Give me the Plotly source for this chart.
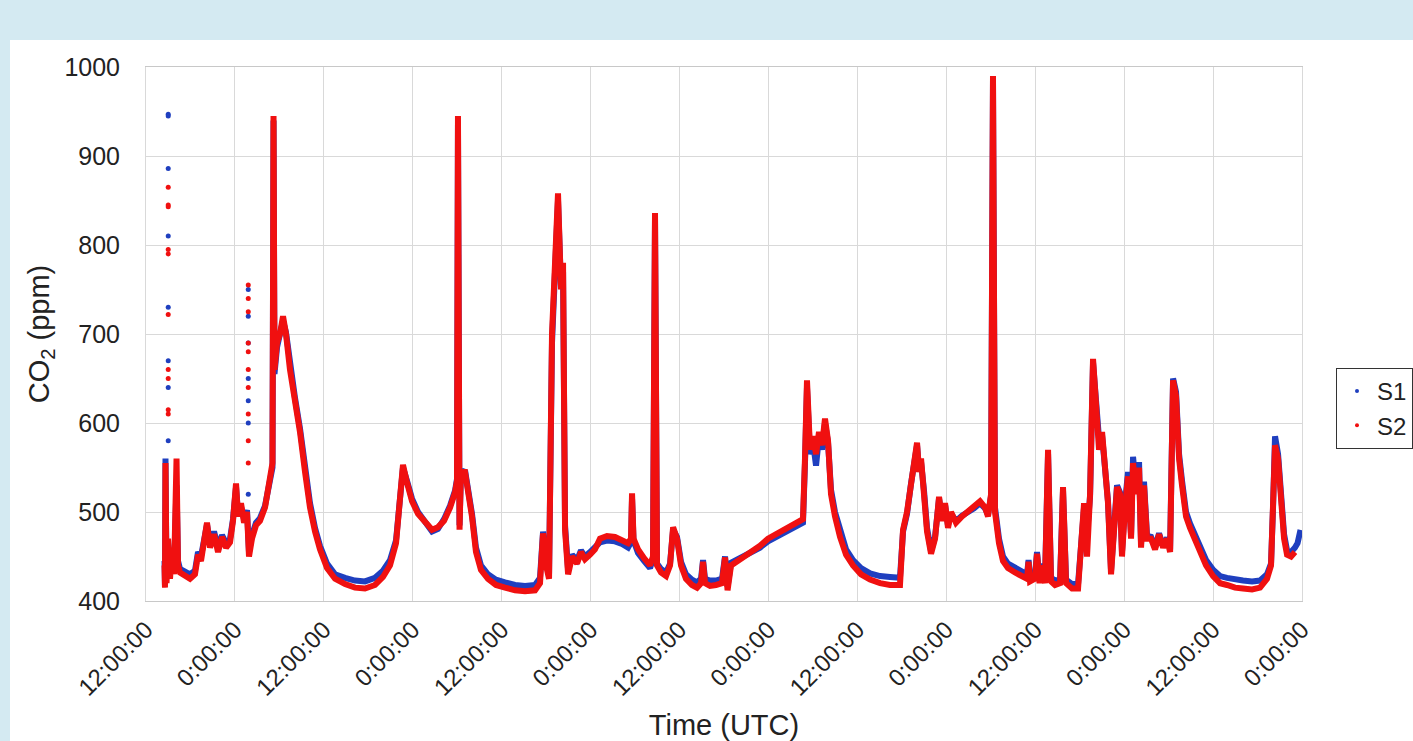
import plotly.graph_objects as go

# Time in hours since the first 12:00:00 tick
hours = [2.5, 2.56, 2.63, 2.77, 2.97, 3.24, 3.51, 3.78, 4.12, 4.32, 4.59, 5.26, 5.94, 6.61, 7.02, 7.42,
         7.83, 8.23, 8.64, 9.18, 9.72, 10.26, 10.8, 11.34, 11.74, 12.15, 12.42, 12.82, 13.23, 13.63, 13.9,
         14.3, 14.84, 15.38, 16.06, 16.73, 17.07, 17.21, 17.34, 17.68, 18.08, 18.49, 18.89, 19.43, 20.11,
         20.78, 21.46, 22.13, 22.81, 23.48, 24.43, 25.51, 26.86, 28.2, 29.55, 30.9, 31.98, 32.93, 33.74,
         34.28, 34.68, 35.22, 35.9, 36.71, 37.65, 38.6, 39.4, 40.22, 41.03, 41.7, 41.97, 42.1, 42.31, 42.5,
         43.05, 43.59, 43.99, 44.53, 45.2, 46.15, 47.23, 48.45, 49.8, 51.15, 52.5, 53.17, 53.58, 53.98,
         54.39, 54.79, 55.2, 55.6, 56.0, 56.28, 56.55, 56.96, 57.5, 58.17, 58.7, 59.24, 59.92, 60.59, 61.27,
         62.21, 63.29, 64.24, 65.05, 65.45, 65.59, 65.79, 66.4, 67.21, 68.02, 68.42, 68.69, 68.96, 69.5,
         70.18, 70.72, 71.13, 71.66, 72.2, 72.87, 73.68, 74.36, 74.9, 75.17, 75.44, 76.11, 76.92, 77.73,
         78.14, 78.48, 78.95, 79.89, 80.84, 81.78, 82.86, 83.94, 85.02, 86.23, 87.58, 88.66, 88.93, 89.2,
         89.61, 90.01, 90.42, 90.82, 91.23, 91.63, 92.04, 92.44, 92.98, 93.66, 94.47, 95.41, 96.49, 97.71,
         99.06, 100.4, 101.75, 102.16, 102.7, 103.24, 103.64, 104.05, 104.32, 104.59, 104.99, 105.4,
         105.94, 106.48, 107.02, 107.42, 107.83, 108.23, 108.64, 109.31, 110.12, 110.93, 111.74, 112.55,
         113.23, 113.63, 114.04, 114.3, 114.57, 115.11, 115.65, 116.32, 117.27, 118.22, 118.89, 119.1,
         119.3, 119.97, 120.24, 120.58, 120.92, 121.32, 121.73, 122.13, 122.67, 123.35, 123.75, 124.16,
         124.97, 125.78, 126.18, 126.59, 126.99, 127.4, 127.8, 128.21, 128.61, 129.02, 129.42, 129.82,
         130.23, 130.63, 131.04, 131.44, 131.71, 132.12, 132.52, 132.93, 133.2, 133.6, 134.01, 134.28,
         134.68, 135.09, 135.63, 136.17, 136.71, 137.25, 137.79, 138.2, 138.6, 139.0, 139.41, 139.81,
         140.35, 140.89, 141.57, 142.24, 143.05, 144.0, 144.94, 145.88, 146.96, 148.04, 149.26, 150.34,
         151.28, 151.82, 152.09, 152.36, 152.77, 153.17, 153.58, 153.98, 154.52, 155.06]

s2 = [440, 415, 555, 420, 470, 425, 460, 430, 560, 440, 432, 428, 425, 430, 452, 445,
      470, 488, 460, 475, 455, 472, 460, 466, 490, 532, 495, 510, 488, 500, 450,
      470, 485, 490, 505, 535, 555, 945, 660, 690, 700, 720, 700, 660, 625,
      590, 545, 505, 478, 458, 437, 425, 419, 415, 414, 418, 427, 440, 465,
      520, 553, 533, 512, 498, 488, 480, 483, 490, 505, 522, 535, 945, 480, 545,
      545, 520, 495, 455, 435, 425, 418, 415, 412, 411, 412, 420, 476, 440,
      425, 700, 800, 858, 750, 780, 480, 430, 450, 442, 455, 447, 452, 458, 470,
      473, 472, 468, 465, 470, 521, 470, 458, 448, 440, 450, 836, 440, 432,
      428, 440, 483, 470, 440, 425, 418, 415, 420, 444, 420, 417, 418, 420,
      449, 412, 440, 445, 450, 455, 462, 470, 475, 482, 488, 492, 560, 648,
      570, 585, 565, 590, 575, 605, 580, 520, 495, 472, 452, 440, 430, 424,
      420, 418, 418, 480, 500, 535, 560, 578, 545, 560, 520, 478,
      453, 470, 517, 490, 510, 482, 500, 488, 495, 500, 505, 512,
      505, 495, 520, 990, 500, 465, 445, 437, 432, 428, 425, 444,
      422, 425, 453, 420, 440, 420, 570, 422, 418, 420, 528, 420,
      414, 414, 470, 510, 450, 520, 672, 610, 570, 590, 545, 510,
      430, 480, 528, 520, 450, 505, 540, 470, 555, 520, 550, 460,
      530, 470, 470, 458, 475, 460, 470, 455, 648, 630, 560, 530,
      495, 482, 470, 455, 440, 428, 420, 418, 415, 414, 413, 415,
      425, 440, 500, 575, 560, 510, 470, 452, 450, 455]

s1 = [445, 418, 560, 425, 465, 430, 455, 435, 530, 445, 436, 432, 430, 434, 455, 450,
      472, 486, 464, 478, 460, 474, 465, 470, 492, 528, 498, 506, 492, 502, 455,
      474, 488, 493, 507, 533, 550, 940, 655, 685, 698, 715, 702, 665, 628,
      594, 550, 510, 482, 462, 442, 430, 426, 423, 422, 426, 434, 446, 468,
      518, 550, 535, 515, 500, 490, 478, 481, 492, 507, 524, 537, 935, 485, 543,
      547, 523, 498, 460, 440, 430, 424, 421, 418, 417, 418, 426, 478, 444,
      430, 690, 795, 850, 755, 770, 485, 435, 452, 446, 457, 450, 455, 460, 466,
      468, 467, 464, 460, 466, 515, 468, 454, 445, 437, 448, 830, 442, 436,
      432, 442, 480, 472, 444, 430, 424, 421, 425, 446, 425, 423, 423, 425,
      450, 416, 443, 447, 451, 455, 460, 467, 472, 478, 484, 488, 555, 640,
      565, 578, 552, 585, 570, 600, 578, 525, 500, 478, 458, 446, 437, 431,
      428, 427, 426, 478, 498, 532, 555, 575, 548, 556, 524, 482,
      456, 472, 515, 493, 508, 485, 498, 490, 496, 500, 504, 510,
      504, 497, 518, 985, 505, 470, 450, 442, 437, 433, 430, 446,
      427, 429, 455, 425, 442, 425, 565, 426, 423, 424, 524, 424,
      419, 419, 472, 505, 475, 518, 668, 612, 582, 586, 548, 512,
      434, 482, 530, 522, 455, 510, 545, 474, 562, 525, 556, 464,
      534, 473, 472, 460, 476, 462, 471, 458, 650, 635, 565, 535,
      500, 487, 475, 460, 446, 435, 428, 426, 424, 423, 422, 423,
      430, 442, 505, 585, 565, 515, 475, 457, 455, 460]

s1_tail_hours = [155.4, 155.8]
s1_tail = [465, 480]

# Sparse readings during the first two rapid excursions
s1_dot_hours = [3.0, 3.0, 3.0, 3.0, 3.0, 3.0, 3.0, 3.0, 13.8, 13.8, 13.8, 13.8, 13.8, 13.8, 13.8]
s1_dots = [947, 945, 886, 810, 730, 670, 640, 580, 750, 720, 690, 650, 625, 600, 520]
s2_dot_hours = [3.0, 3.0, 3.0, 3.0, 3.0, 3.0, 3.0, 3.0, 3.0, 3.0,
                13.8, 13.8, 13.8, 13.8, 13.8, 13.8, 13.8, 13.8, 13.8, 13.8]
s2_dots = [865, 845, 843, 795, 790, 722, 660, 650, 615, 610,
           755, 740, 725, 690, 680, 660, 640, 610, 580, 555]

tick_hours = [0, 12, 24, 36, 48, 60, 72, 84, 96, 108, 120, 132, 144, 156]
tick_labels = ["12:00:00", "0:00:00", "12:00:00", "0:00:00", "12:00:00", "0:00:00", "12:00:00",
               "0:00:00", "12:00:00", "0:00:00", "12:00:00", "0:00:00", "12:00:00", "0:00:00"]

BLUE = "#1f3fbf"
RED = "#f01010"
FONT = "Liberation Sans, Arial, sans-serif"

fig = go.Figure()
fig.add_trace(go.Scatter(x=hours + s1_tail_hours, y=s1 + s1_tail, mode="lines",
                         line=dict(color=BLUE, width=6), showlegend=False, legendgroup="S1", name="S1"))
fig.add_trace(go.Scatter(x=s1_dot_hours, y=s1_dots, mode="markers",
                         marker=dict(color=BLUE, size=5), showlegend=False, legendgroup="S1", name="S1"))
fig.add_trace(go.Scatter(x=hours, y=s2, mode="lines",
                         line=dict(color=RED, width=6), showlegend=False, legendgroup="S2", name="S2"))
fig.add_trace(go.Scatter(x=s2_dot_hours, y=s2_dots, mode="markers",
                         marker=dict(color=RED, size=5), showlegend=False, legendgroup="S2", name="S2"))
fig.add_trace(go.Scatter(x=[None], y=[None], mode="markers", marker=dict(color=BLUE, size=4),
                         name="S1", legendgroup="S1"))
fig.add_trace(go.Scatter(x=[None], y=[None], mode="markers", marker=dict(color=RED, size=4),
                         name="S2", legendgroup="S2"))

L, R, T, B = 146, 111, 67, 140
W, H = 1413, 741
pw, ph = W - L - R, H - T - B

def px(xp):
    return (xp - L) / pw

def py(yp):
    return (H - B - yp) / ph

BG = "#d4eaf2"
fig.update_layout(
    width=W, height=H, autosize=False,
    margin=dict(l=L, r=R, t=T, b=B, pad=0, autoexpand=False),
    paper_bgcolor="white", plot_bgcolor="white",
    font=dict(family=FONT, color="#222", size=24),
    shapes=[
        dict(type="rect", xref="paper", yref="paper", x0=px(0), x1=px(W), y0=py(40), y1=py(0),
             fillcolor=BG, line=dict(width=0), layer="below"),
        dict(type="rect", xref="paper", yref="paper", x0=px(0), x1=px(10), y0=py(H), y1=py(0),
             fillcolor=BG, line=dict(width=0), layer="below"),
    ],
    xaxis=dict(range=[0, 156], tickmode="array", tickvals=tick_hours, ticktext=tick_labels,
               tickangle=-45, showgrid=True, gridcolor="#d9d9d9", gridwidth=1, automargin=False,
               showline=True, linecolor="#c8c8c8", mirror=True, zeroline=False,
               ticks="outside", ticklen=4, tickcolor="rgba(0,0,0,0)",
               tickfont=dict(size=24),
               title=dict(text="Time (UTC)", font=dict(size=29), standoff=30)),
    yaxis=dict(range=[400, 1000], tickmode="array", tickvals=[400, 500, 600, 700, 800, 900, 1000],
               showgrid=True, gridcolor="#d9d9d9", gridwidth=1, automargin=False,
               showline=True, linecolor="#d9d9d9", mirror=True, zeroline=False,
               ticks="outside", ticklen=20, tickcolor="rgba(0,0,0,0)",
               tickfont=dict(size=25),
               title=dict(text="CO<sub>2</sub> (ppm)", font=dict(size=29), standoff=6)),
    legend=dict(x=px(1336), y=py(368), xanchor="left", yanchor="top",
                bordercolor="#333", borderwidth=1, bgcolor="white",
                font=dict(size=24), itemwidth=30, tracegroupgap=0),
)

fig.write_html(
    "out.html",
    config={"responsive": False, "displayModeBar": False},
    post_script=(
        "document.documentElement.style.overflow='hidden';"
        "document.body.style.margin='0';document.body.style.padding='0';document.body.style.overflow='hidden';"
    ),
)
